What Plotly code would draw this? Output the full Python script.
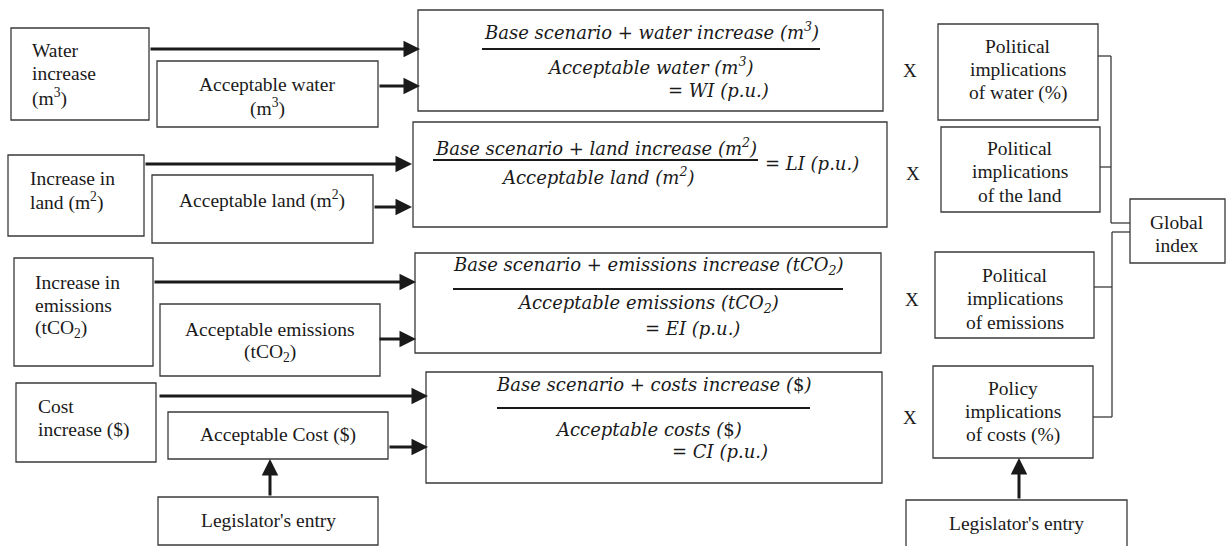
import plotly.graph_objects as go

W, H = 1227, 546

# ---------------- content (text) ----------------
input_labels = [["Water", "increase", "(m<sup>3</sup>)"],
                ["Increase in", "land (m<sup>2</sup>)"],
                ["Increase in", "emissions", "(tCO<sub>2</sub>)"],
                ["Cost", "increase ($)"]]
acceptable_labels = [["Acceptable water", "(m<sup>3</sup>)"],
                     ["Acceptable land (m<sup>2</sup>)"],
                     ["Acceptable emissions", "(tCO<sub>2</sub>)"],
                     ["Acceptable Cost ($)"]]
numerators = ["Base scenario + water increase (m<sup>3</sup>)",
              "Base scenario + land increase (m<sup>2</sup>)",
              "Base scenario + emissions increase (tCO<sub>2</sub>)",
              "Base scenario + costs increase (<span style='font-style:normal'>$</span>)"]
denominators = ["Acceptable water (m<sup>3</sup>)",
                "Acceptable land (m<sup>2</sup>)",
                "Acceptable emissions (tCO<sub>2</sub>)",
                "Acceptable costs (<span style='font-style:normal'>$</span>)"]
results = ["= WI (p.u.)", "= LI (p.u.)", "= EI (p.u.)", "= CI (p.u.)"]
policy_labels = [["Political", "implications", "of water (%)"],
                 ["Political", "implications", "of the land"],
                 ["Political", "implications", "of emissions"],
                 ["Policy", "implications", "of costs (%)"]]
times_label = "X"
global_label = ["Global", "index"]
legislator_label = ["Legislator's entry"]

# ---------------- geometry (pixels, y down) ----------------
input_boxes = [(11, 28, 149, 120), (8, 155, 144, 236), (14, 258, 153, 366), (16, 383, 156, 462)]
input_text_pos = [(30, 50), (28, 178), (33, 282), (36, 406)]
acc_boxes = [(157, 61, 378, 127), (152, 175, 373, 243), (160, 304, 380, 376), (168, 412, 388, 459)]
acc_text_pos = [(267, 84), (262, 199), (270, 329), (278, 435)]
formula_boxes = [(418, 10, 883, 111), (413, 122, 887, 227), (415, 253, 881, 353), (426, 372, 882, 483)]
num_pos = [(651, 31), (596, 147), (648, 266), (653, 384)]
frac_lines = [(482, 820, 49), (433, 758, 160), (453, 843, 289), (497, 810, 408)]
den_pos = [(650, 66), (597, 176), (648, 304), (648, 429)]
res_pos = [(718, 90), (812, 163), (692, 328), (720, 451)]
top_arrows = [(149, 49, 420), (144, 164, 412), (153, 282, 416), (158, 396, 428)]
bot_arrows = [(378, 86, 420), (373, 207, 412), (378, 339, 416), (388, 447, 428)]
x_pos = [(910, 70), (913, 173), (912, 299), (910, 417)]
policy_boxes = [(938, 24, 1098, 120), (941, 127, 1100, 212), (935, 252, 1094, 338), (933, 366, 1093, 458)]
policy_text_pos = [(1018, 46), (1020, 148), (1015, 275), (1013, 388)]
global_box = (1130, 199, 1225, 263)
global_text_pos = (1177, 222)
leg_boxes = [(158, 497, 378, 545), (906, 500, 1127, 560)]
leg_text_pos = [(268, 520), (1016, 523)]
up_arrows = [(270, 497, 459), (1019, 500, 458)]
LINE_GAP = 23.7

BOX_COLOR = "#3a3a3a"
TXT = "#1a1a1a"
SERIF = "Liberation Serif, Times New Roman, serif"
MATH = "DejaVu Serif, serif"

fig = go.Figure()
shapes = []
ann = []


def rect(b):
    x0, y0, x1, y1 = b
    shapes.append(dict(type="rect", x0=x0, y0=y0, x1=x1, y1=y1, xref="x", yref="y",
                       line=dict(color=BOX_COLOR, width=1.3), fillcolor="rgba(0,0,0,0)"))


def line(x0, y0, x1, y1, w=1.3, c=BOX_COLOR):
    shapes.append(dict(type="line", x0=x0, y0=y0, x1=x1, y1=y1, xref="x", yref="y",
                       line=dict(color=c, width=w)))


def text(x, y, t, size=19.5, font=SERIF, xanchor="center"):
    ann.append(dict(x=x, y=y, xref="x", yref="y", text=t, showarrow=False,
                    font=dict(family=font, size=size, color=TXT),
                    xanchor=xanchor, yanchor="middle"))


def lines(x, y, parts, xanchor="center", size=19.5):
    for k, p in enumerate(parts):
        text(x, y + k * LINE_GAP, p, size=size, xanchor=xanchor)


def arrow(x0, y0, x1, y1):
    ann.append(dict(x=x1, y=y1, ax=x0, ay=y0, xref="x", yref="y", axref="x", ayref="y",
                    text="", showarrow=True, arrowhead=2, arrowsize=1.1, arrowwidth=3,
                    arrowcolor="#1a1a1a", standoff=0, startstandoff=0))


for i in range(4):
    rect(input_boxes[i])
    lines(*input_text_pos[i], input_labels[i], xanchor="left")
    rect(acc_boxes[i])
    lines(*acc_text_pos[i], acceptable_labels[i])
    rect(formula_boxes[i])
    text(*num_pos[i], "<i>" + numerators[i] + "</i>", size=18, font=MATH)
    x0, x1, y = frac_lines[i]
    line(x0, y, x1, y, w=2.2, c="#1a1a1a")
    text(*den_pos[i], "<i>" + denominators[i] + "</i>", size=18, font=MATH)
    text(*res_pos[i], "<i>" + results[i] + "</i>", size=18, font=MATH)
    xa, ya, xb = top_arrows[i]
    arrow(xa, ya, xb, ya)
    xa, ya, xb = bot_arrows[i]
    arrow(xa, ya, xb, ya)
    text(*x_pos[i], times_label, size=19)
    rect(policy_boxes[i])
    lines(*policy_text_pos[i], policy_labels[i])

rect(global_box)
lines(*global_text_pos, global_label)
for j in range(2):
    rect(leg_boxes[j])
    lines(*leg_text_pos[j], legislator_label, size=19.5)
    xa, yb, yt = up_arrows[j]
    arrow(xa, yb, xa, yt)

# connectors to global index
line(1098, 56, 1111, 56)
line(1100, 167, 1111, 167)
line(1111, 56, 1111, 223)
line(1111, 223, 1130, 223)
line(1130, 232, 1112, 232)
line(1112, 232, 1112, 417)
line(1094, 287, 1112, 287)
line(1093, 417, 1112, 417)

fig.update_layout(
    width=W, height=H, margin=dict(l=0, r=0, t=0, b=0),
    paper_bgcolor="white", plot_bgcolor="white",
    xaxis=dict(range=[0, W], visible=False, fixedrange=True),
    yaxis=dict(range=[H, 0], visible=False, fixedrange=True),
    shapes=shapes, annotations=ann, showlegend=False,
)
fig.write_html("out.html",
               post_script="document.body.style.margin='0';document.body.style.overflow='hidden';",
               config={"displayModeBar": False})
